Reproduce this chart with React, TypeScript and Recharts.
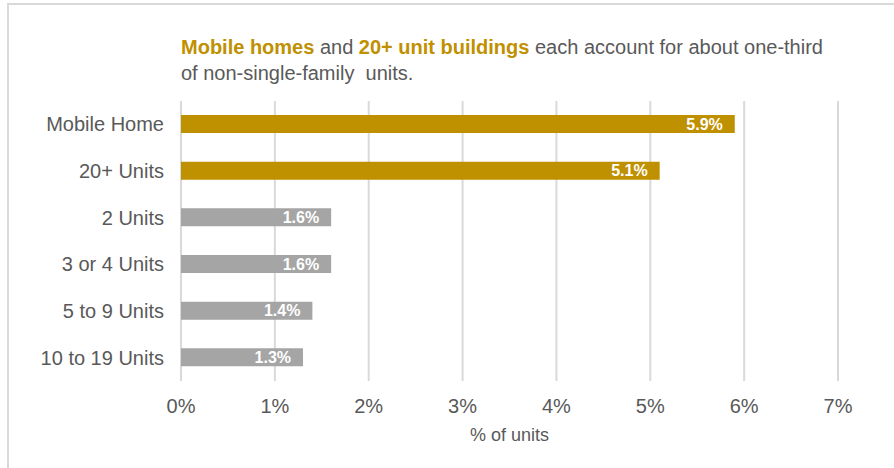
import { Bar, BarChart, CartesianGrid, Cell, LabelList, XAxis, YAxis } from "recharts";

const categories = ["Mobile Home", "20+ Units", "2 Units", "3 or 4 Units", "5 to 9 Units", "10 to 19 Units"];
const shares = [5.9, 5.1, 1.6, 1.6, 1.4, 1.3];
const xTicks = [0, 1, 2, 3, 4, 5, 6, 7];

const GOLD = "#BF9000";
const GRAY = "#A5A5A5";
const TEXT = "#595959";
const FONT = "'Liberation Sans', Arial, sans-serif";

const data = categories.map((name, i) => ({ name, value: shares[i] }));
const barColors = [GOLD, GOLD, GRAY, GRAY, GRAY, GRAY];

const App = () => {
  return (
    <div style={{ position: "absolute", left: 0, top: 0, width: 894, height: 468, overflow: "hidden", background: "#fff", fontFamily: FONT }}>
      <div
        style={{
          position: "absolute",
          left: 7,
          top: 3,
          width: 950,
          height: 520,
          border: "2px solid #d9d9d9",
          boxSizing: "border-box",
        }}
      />
      <svg width={894} height={100} style={{ position: "absolute", left: 0, top: 0 }}>
        <text x={181} y={54} fontSize={20} fontFamily={FONT} fill={TEXT} xmlSpace="preserve">
          <tspan fill={GOLD} fontWeight="bold">Mobile homes</tspan>
          <tspan> and </tspan>
          <tspan fill={GOLD} fontWeight="bold">20+ unit buildings</tspan>
          <tspan> each account for about one-third</tspan>
        </text>
        <text x={181} y={80} fontSize={20} fontFamily={FONT} fill={TEXT} xmlSpace="preserve">
          of non-single-family  units.
        </text>
      </svg>
      <div style={{ position: "absolute", left: 0, top: 0 }}>
        <BarChart
          width={894}
          height={468}
          data={data}
          layout="vertical"
          margin={{ top: 101, right: 56, bottom: 27, left: 0 }}
          barSize={18}
        >
          <CartesianGrid horizontal={false} stroke="#d9d9d9" strokeWidth={2} />
          <XAxis
            type="number"
            domain={[0, 7]}
            ticks={xTicks}
            tickFormatter={(v) => `${v}%`}
            axisLine={false}
            tickLine={false}
            tickSize={0}
            tickMargin={18}
            height={60}
            tick={{ fill: TEXT, fontSize: 20, fontFamily: FONT }}
            label={{ value: "% of units", position: "insideBottom", offset: 0, fill: TEXT, fontSize: 18, fontFamily: FONT }}
          />
          <YAxis
            type="category"
            dataKey="name"
            width={181}
            axisLine={false}
            tickLine={false}
            tickSize={0}
            tickMargin={17}
            tick={{ fill: TEXT, fontSize: 20, fontFamily: FONT }}
          />
          <Bar dataKey="value" isAnimationActive={false}>
            {data.map((d, i) => (
              <Cell key={d.name} fill={barColors[i]} />
            ))}
            <LabelList
              dataKey="value"
              position="insideRight"
              offset={12}
              formatter={(v: number) => `${v.toFixed(1)}%`}
              fill="#fff"
              fontSize={16}
              fontWeight="bold"
              fontFamily={FONT}
            />
          </Bar>
        </BarChart>
      </div>
    </div>
  );
};

export default App;
